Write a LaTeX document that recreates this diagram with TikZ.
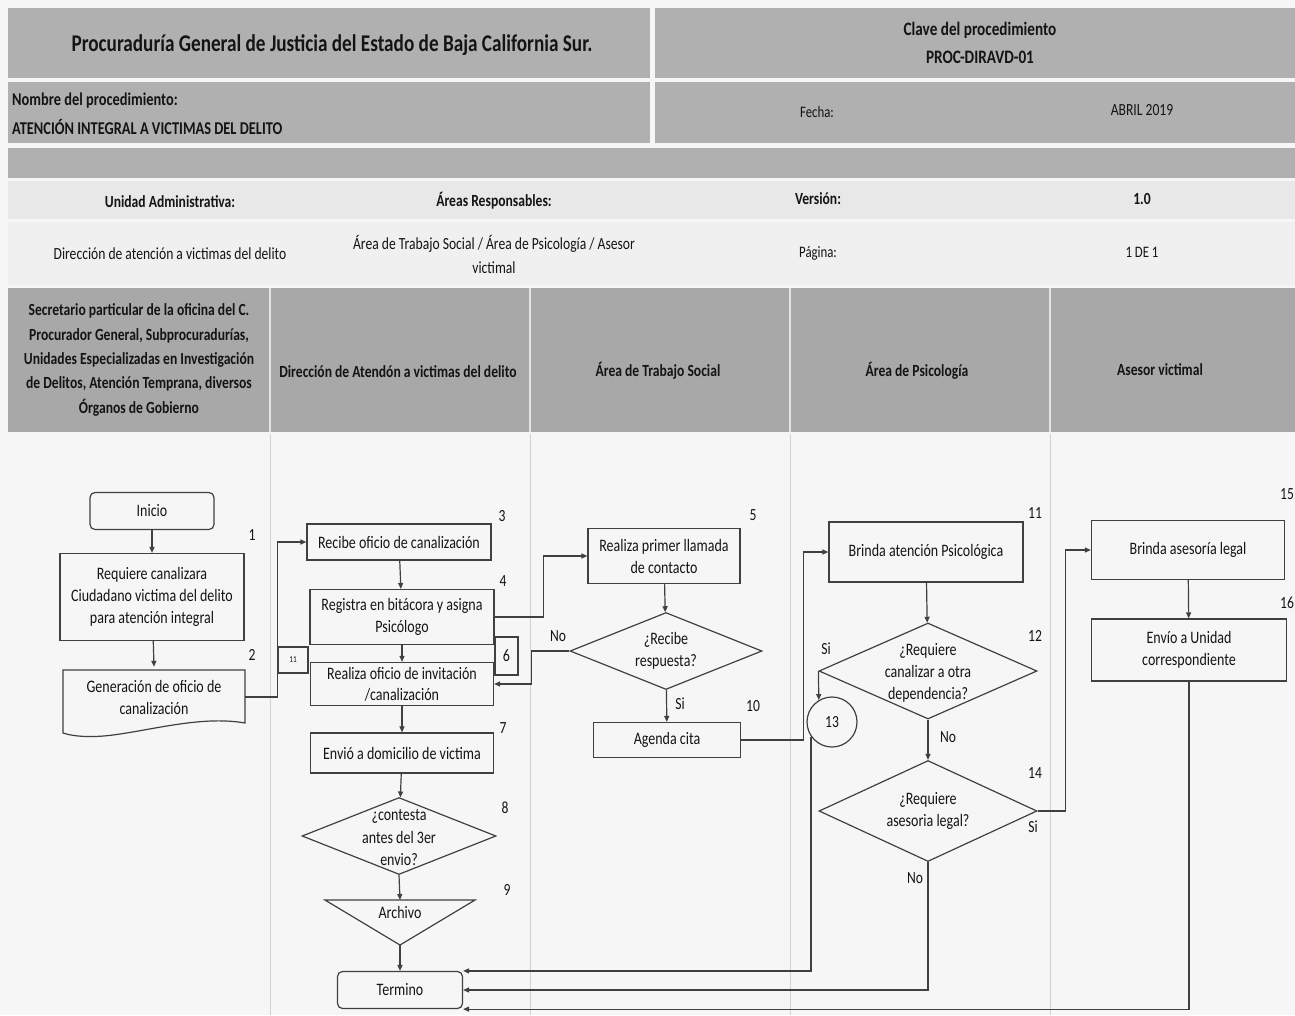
\documentclass[tikz,border=0pt]{standalone}
\usepackage{fontspec}
\setmainfont{Carlito}[FakeStretch=0.8]
\usetikzlibrary{arrows.meta,shapes.geometric}
\definecolor{bandA}{gray}{0.69}
\definecolor{bandL}{gray}{0.91}
\definecolor{bandM}{gray}{0.94}
\definecolor{laneH}{gray}{0.66}
\definecolor{ink}{gray}{0.08}
\definecolor{edge}{gray}{0.25}
\definecolor{paper}{gray}{0.965}
\newcommand\fz[2]{\fontsize{#1}{#2}\selectfont}
\begin{document}
\begin{tikzpicture}[x=1pt,y=-1pt,
  hdr/.style={text=ink, font=\bfseries\fz{17}{20}, inner sep=0pt},
  hdrr/.style={text=ink, font=\fz{17}{24}, inner sep=0pt, align=center},
  box/.style={draw=edge, line width=1.2pt, align=center, text=ink, font=\fz{17.5}{22}, inner sep=0pt},
  rbox/.style={box, rounded corners=5pt},
  txt/.style={align=center, text=ink, font=\fz{17.5}{22}, inner sep=0pt},
  num/.style={text=ink, font=\fz{17}{19}, inner sep=0pt},
  dia/.style={diamond, draw=edge, line width=1.2pt, inner sep=0pt},
  arr/.style={draw=edge, line width=1.2pt, -{Triangle[length=6pt,width=5pt]}},
  ln/.style={draw=edge, line width=1.2pt},
  lanesep/.style={draw=gray!35, line width=0.8pt},
]
\useasboundingbox (0,0) rectangle (1295,1015);
\fill[paper] (0,0) rectangle (1295,1015);
% ---- header bands
\fill[bandA] (8,8) rectangle (650,78);
\fill[bandA] (655,8) rectangle (1295,78);
\fill[bandA] (8,82) rectangle (650,143);
\fill[bandA] (655,82) rectangle (1295,143);
\fill[bandA] (8,148) rectangle (1295,178);
\fill[bandL] (8,181) rectangle (1295,219);
\fill[bandM] (8,222) rectangle (1295,285);
\fill[laneH] (8,288) rectangle (1295,432);
\foreach \xx in {270,530,790,1050} \draw[white!80!gray, line width=1.2pt] (\xx,288) -- (\xx,432);
\foreach \xx in {270,530,790,1050} \draw[lanesep] (\xx,434) -- (\xx,1015);
% ---- header texts
\node[hdr, font=\bfseries\fz{24}{28}] (t1) at (332,45) {Procuraduría General de Justicia del Estado de Baja California Sur.};
\node[hdr, font=\bfseries\fz{19}{22}] (t2) at (980,30) {Clave del procedimiento};
\node[hdr, font=\bfseries\fz{19}{22}] (t3) at (980,57) {PROC-DIRAVD-01};
\node[hdr, anchor=west, font=\bfseries\fz{18}{21}] (t4) at (12,101) {Nombre del procedimiento:};
\node[hdr, anchor=west, font=\bfseries\fz{18}{21}] (t5) at (12,127) {ATENCIÓN INTEGRAL A VICTIMAS DEL DELITO};
\node[hdrr, font=\fz{16}{20}] (t6) at (817,112) {Fecha:};
\node[hdrr] (t7) at (1142,110) {ABRIL 2019};
\node[hdr] (t8) at (170,202) {Unidad Administrativa:};
\node[hdr] (t9) at (494,201) {Áreas Responsables:};
\node[hdr] (t10) at (818,199) {Versión:};
\node[hdr] (t11) at (1142,199) {1.0};
\node[hdrr] (t12) at (170,254) {Dirección de atención a victimas del delito};
\node[hdrr] (t13) at (494,254) {Área de Trabajo Social / Área de Psicología / Asesor\\victimal};
\node[hdrr, font=\fz{16}{20}] (t14) at (818,253) {Página:};
\node[hdrr, font=\fz{16}{20}] (t15) at (1142,252) {1 DE 1};
\node[hdr, align=center, font=\bfseries\fz{17}{24.3}] (L1) at (139,360) {Secretario particular de la oficina del C.\\Procurador General, Subprocuradurías,\\Unidades Especializadas en Investigación\\de Delitos, Atención Temprana, diversos\\Órganos de Gobierno};
\node[hdr] (L2) at (398,372) {Dirección de Atendón a victimas del delito};
\node[hdr] (L3) at (658,371) {Área de Trabajo Social};
\node[hdr] (L4) at (917,371) {Área de Psicología};
\node[hdr] (L5) at (1160,370) {Asesor victimal};
% ---- flowchart nodes
\node[rbox, minimum width=124, minimum height=37] (ini) at (152,511) {Inicio};
\node[box, minimum width=184, minimum height=87] (b1) at (152,597) {Requiere canalizara\\Ciudadano victima del delito\\para atención integral};
\node[txt, minimum width=182, minimum height=60] (doc2) at (154,697) {Generación de oficio de\\canalización};
\draw[ln] (63,670) -- (245,670) -- (245,723) .. controls (205,716) and (160,728) .. (120,734) .. controls (95,738) and (75,737) .. (63,733) -- cycle;
\node[box, minimum width=184, minimum height=36] (b3) at (399,542) {Recibe oficio de canalización};
\node[box, minimum width=184, minimum height=55] (b4) at (402,617) {Registra en bitácora y asigna\\Psicólogo};
\node[box, minimum width=23, minimum height=38] (s6) at (506.5,656) {6};
\node[box, minimum width=30, minimum height=26, font=\fz{9}{10}] (s11) at (293,660) {11};
\node[box, minimum width=183, minimum height=43, font=\fz{17.5}{21}] (b6) at (402,684) {Realiza oficio de invitación\\/canalización};
\node[box, minimum width=183, minimum height=40] (b7) at (402,753) {Envió a domicilio de victima};
\node[dia, minimum width=194, minimum height=77] (d8) at (399,836) {};
\node[txt, font=\fz{17.5}{22.5}] (d8t) at (399,838) {¿contesta\\antes del 3er\\envio?};
\node[txt] (arch) at (400,912) {Archivo};
\coordinate (archtop) at (400,900);
\coordinate (archbot) at (400,945);
\draw[ln] (325,900) -- (475,900) -- (archbot) -- cycle;
\node[rbox, minimum width=125, minimum height=37] (term) at (400,990) {Termino};
\node[box, minimum width=152, minimum height=55] (b5) at (664,556) {Realiza primer llamada\\de contacto};
\node[dia, minimum width=192, minimum height=77] (d5) at (666,651) {};
\node[txt] (d5t) at (666,651) {¿Recibe\\respuesta?};
\node[box, minimum width=147, minimum height=35] (ag) at (667,740) {Agenda cita};
\node[box, minimum width=194, minimum height=60] (b11) at (926,552) {Brinda atención Psicológica};
\node[dia, minimum width=218, minimum height=96] (d12) at (928,671) {};
\node[txt] (d12t) at (928,673) {¿Requiere\\canalizar a otra\\dependencia?};
\node[circle, draw=edge, line width=1.2pt, minimum size=50, inner sep=0, text=ink, font=\fz{17}{19}] (c13) at (832,722) {13};
\node[dia, minimum width=218, minimum height=101] (d14) at (928,811) {};
\node[txt] (d14t) at (928,811) {¿Requiere\\asesoria legal?};
\node[box, minimum width=193, minimum height=59] (b15) at (1188,550) {Brinda asesoría legal};
\node[box, minimum width=195, minimum height=62] (b16) at (1189,650) {Envío a Unidad\\correspondiente};
% ---- step numbers and branch labels
\node[num] (n1) at (252,535) {1};
\node[num] (n2) at (252,655) {2};
\node[num] (n3) at (502,516) {3};
\node[num] (n4) at (503,581) {4};
\node[num] (n5) at (753,515) {5};
\node[num] (n7) at (503,728) {7};
\node[num] (n8) at (505,808) {8};
\node[num] (n9) at (507,890) {9};
\node[num] (n10) at (753,706) {10};
\node[num] (n11) at (1035,513) {11};
\node[num] (n12) at (1035,636) {12};
\node[num] (n14) at (1035,773) {14};
\node[num] (n15) at (1287,494) {15};
\node[num] (n16) at (1287,603) {16};
\node[num] (no5) at (558,636) {No};
\node[num] (si5) at (680,704) {Si};
\node[num] (si12) at (826,649) {Si};
\node[num] (no12) at (948,737) {No};
\node[num] (si14) at (1033,827) {Si};
\node[num] (no14) at (915,878) {No};
% ---- connectors
\draw[arr] (ini) -- (b1);
\draw[arr] (b1) -- (doc2.north);
\draw[arr] (doc2.east) -- ++(32,0) |- (b3.west);
\draw[arr] (b3) -- (b4);
\draw[arr] (b4) -- (b6);
\draw[arr] (b6) -- (b7);
\draw[arr] (b7) -- (d8);
\draw[arr] (d8.south) -- (archtop);
\draw[arr] (archbot) -- (term);
\draw[arr] (b4.east) -- ++(49,0) |- (b5.west);
\draw[arr] (b5) -- (d5);
\draw[arr] (d5.west) -- ++(-38,0) |- (b6.east);
\draw[arr] (d5) -- (ag);
\draw[arr] (ag.east) -- ++(62,0) |- (b11.west);
\draw[arr] (b11) -- (d12);
\draw[arr] (d12.west) -- (c13.121);
\draw[arr] (c13.215) |- (term.north east);
\draw[arr] (d12) -- (d14);
\draw[arr] (d14.east) -- ++(28,0) |- (b15.west);
\draw[arr] (d14.south) |- (term.east);
\draw[arr] (b15) -- (b16);
\draw[arr] (b16.south) |- (term.south east);
\end{tikzpicture}
\end{document}
